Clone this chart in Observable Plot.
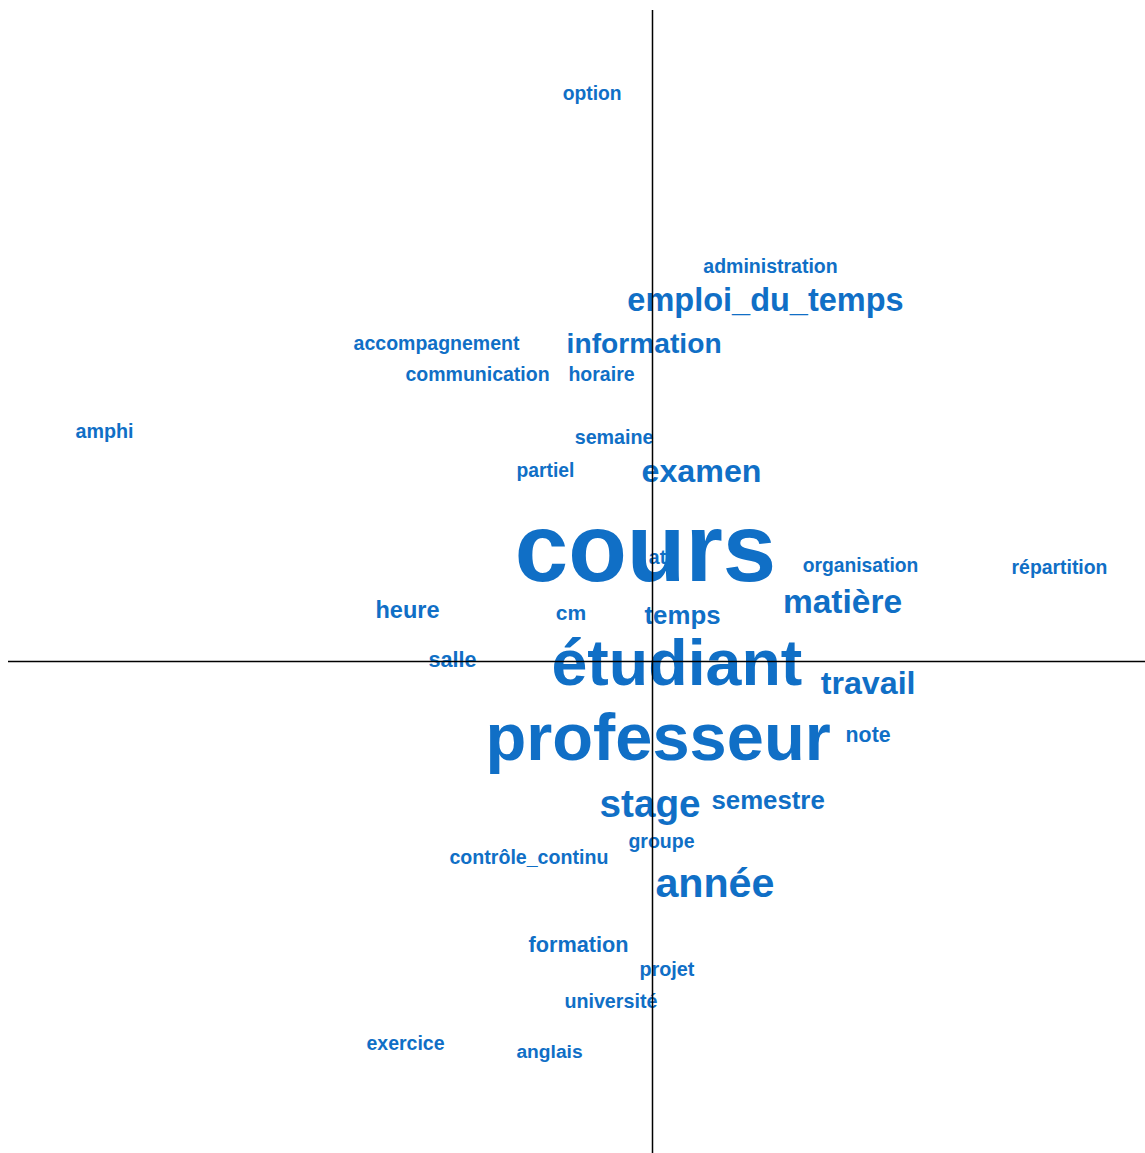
<!DOCTYPE html>
<html>
<head>
<meta charset="utf-8">
<script src="https://cdn.jsdelivr.net/npm/d3@7"></script>
<script src="https://cdn.jsdelivr.net/npm/@observablehq/plot@0.6"></script>
<style>
  html, body { margin: 0; padding: 0; background: #fff; }
</style>
</head>
<body>
<div id="chart"></div>
<script>
const words = ["option","administration","emploi_du_temps","accompagnement","information","communication","horaire","amphi","semaine","partiel","examen","cours","at","organisation","répartition","matière","heure","cm","temps","salle","étudiant","travail","professeur","note","stage","semestre","groupe","contrôle_continu","année","formation","projet","université","exercice","anglais"];
const dim1 = [-0.151,0.295,0.2825,-0.54,-0.021,-0.4375,-0.1275,-1.37,-0.096,-0.2675,0.1225,-0.0175,0.0125,0.52,1.0175,0.475,-0.6125,-0.204,0.075,-0.5,0.061,0.539,0.014,0.539,-0.006,0.289,0.0225,-0.309,0.156,-0.185,0.036,-0.104,-0.6175,-0.2575];
const dim2 = [1.418,0.988,0.9025,0.795,0.795,0.7175,0.7175,0.575,0.56,0.4775,0.474,0.2775,0.26,0.239,0.235,0.1475,0.1275,0.12,0.115,0.0025,-0.0075,-0.055,-0.194,-0.185,-0.359,-0.3475,-0.45,-0.49,-0.555,-0.71,-0.77,-0.85,-0.955,-0.975];
const weight = [19.3,19.5,32.5,19.5,28.2,19.5,19.5,19.7,19.7,19.3,32.2,96,19.5,19.3,19.4,33.5,23.5,21,25.8,21.6,64.5,32.2,66.8,21.3,38.7,25.8,19.5,19.6,41.2,21.7,19.8,19.7,19.5,19.2];

const data = words.map((w, i) => ({word: w, x: dim1[i], y: dim2[i], size: weight[i]}));

const chart = Plot.plot({
  width: 1145,
  height: 1153,
  margin: 0,
  x: {domain: [-1.63, 1.2325], axis: null},
  y: {domain: [-1.23, 1.6525], axis: null},
  marks: [
    Plot.text(data, {
      x: "x", y: "y", text: "word",
      fontSize: d => d.size,
      fontWeight: "bold",
      fontFamily: "'Liberation Sans', Arial, sans-serif",
      fill: "#106fc6",
      textAnchor: "middle"
    }),
    Plot.ruleY([0], {x1: -1.61, x2: 1.2325, stroke: "black", strokeWidth: 1.5}),
    Plot.ruleX([0], {y1: -1.23, y2: 1.6275, stroke: "black", strokeWidth: 1.5})
  ]
});
document.getElementById("chart").appendChild(chart);
</script>
</body>
</html>
